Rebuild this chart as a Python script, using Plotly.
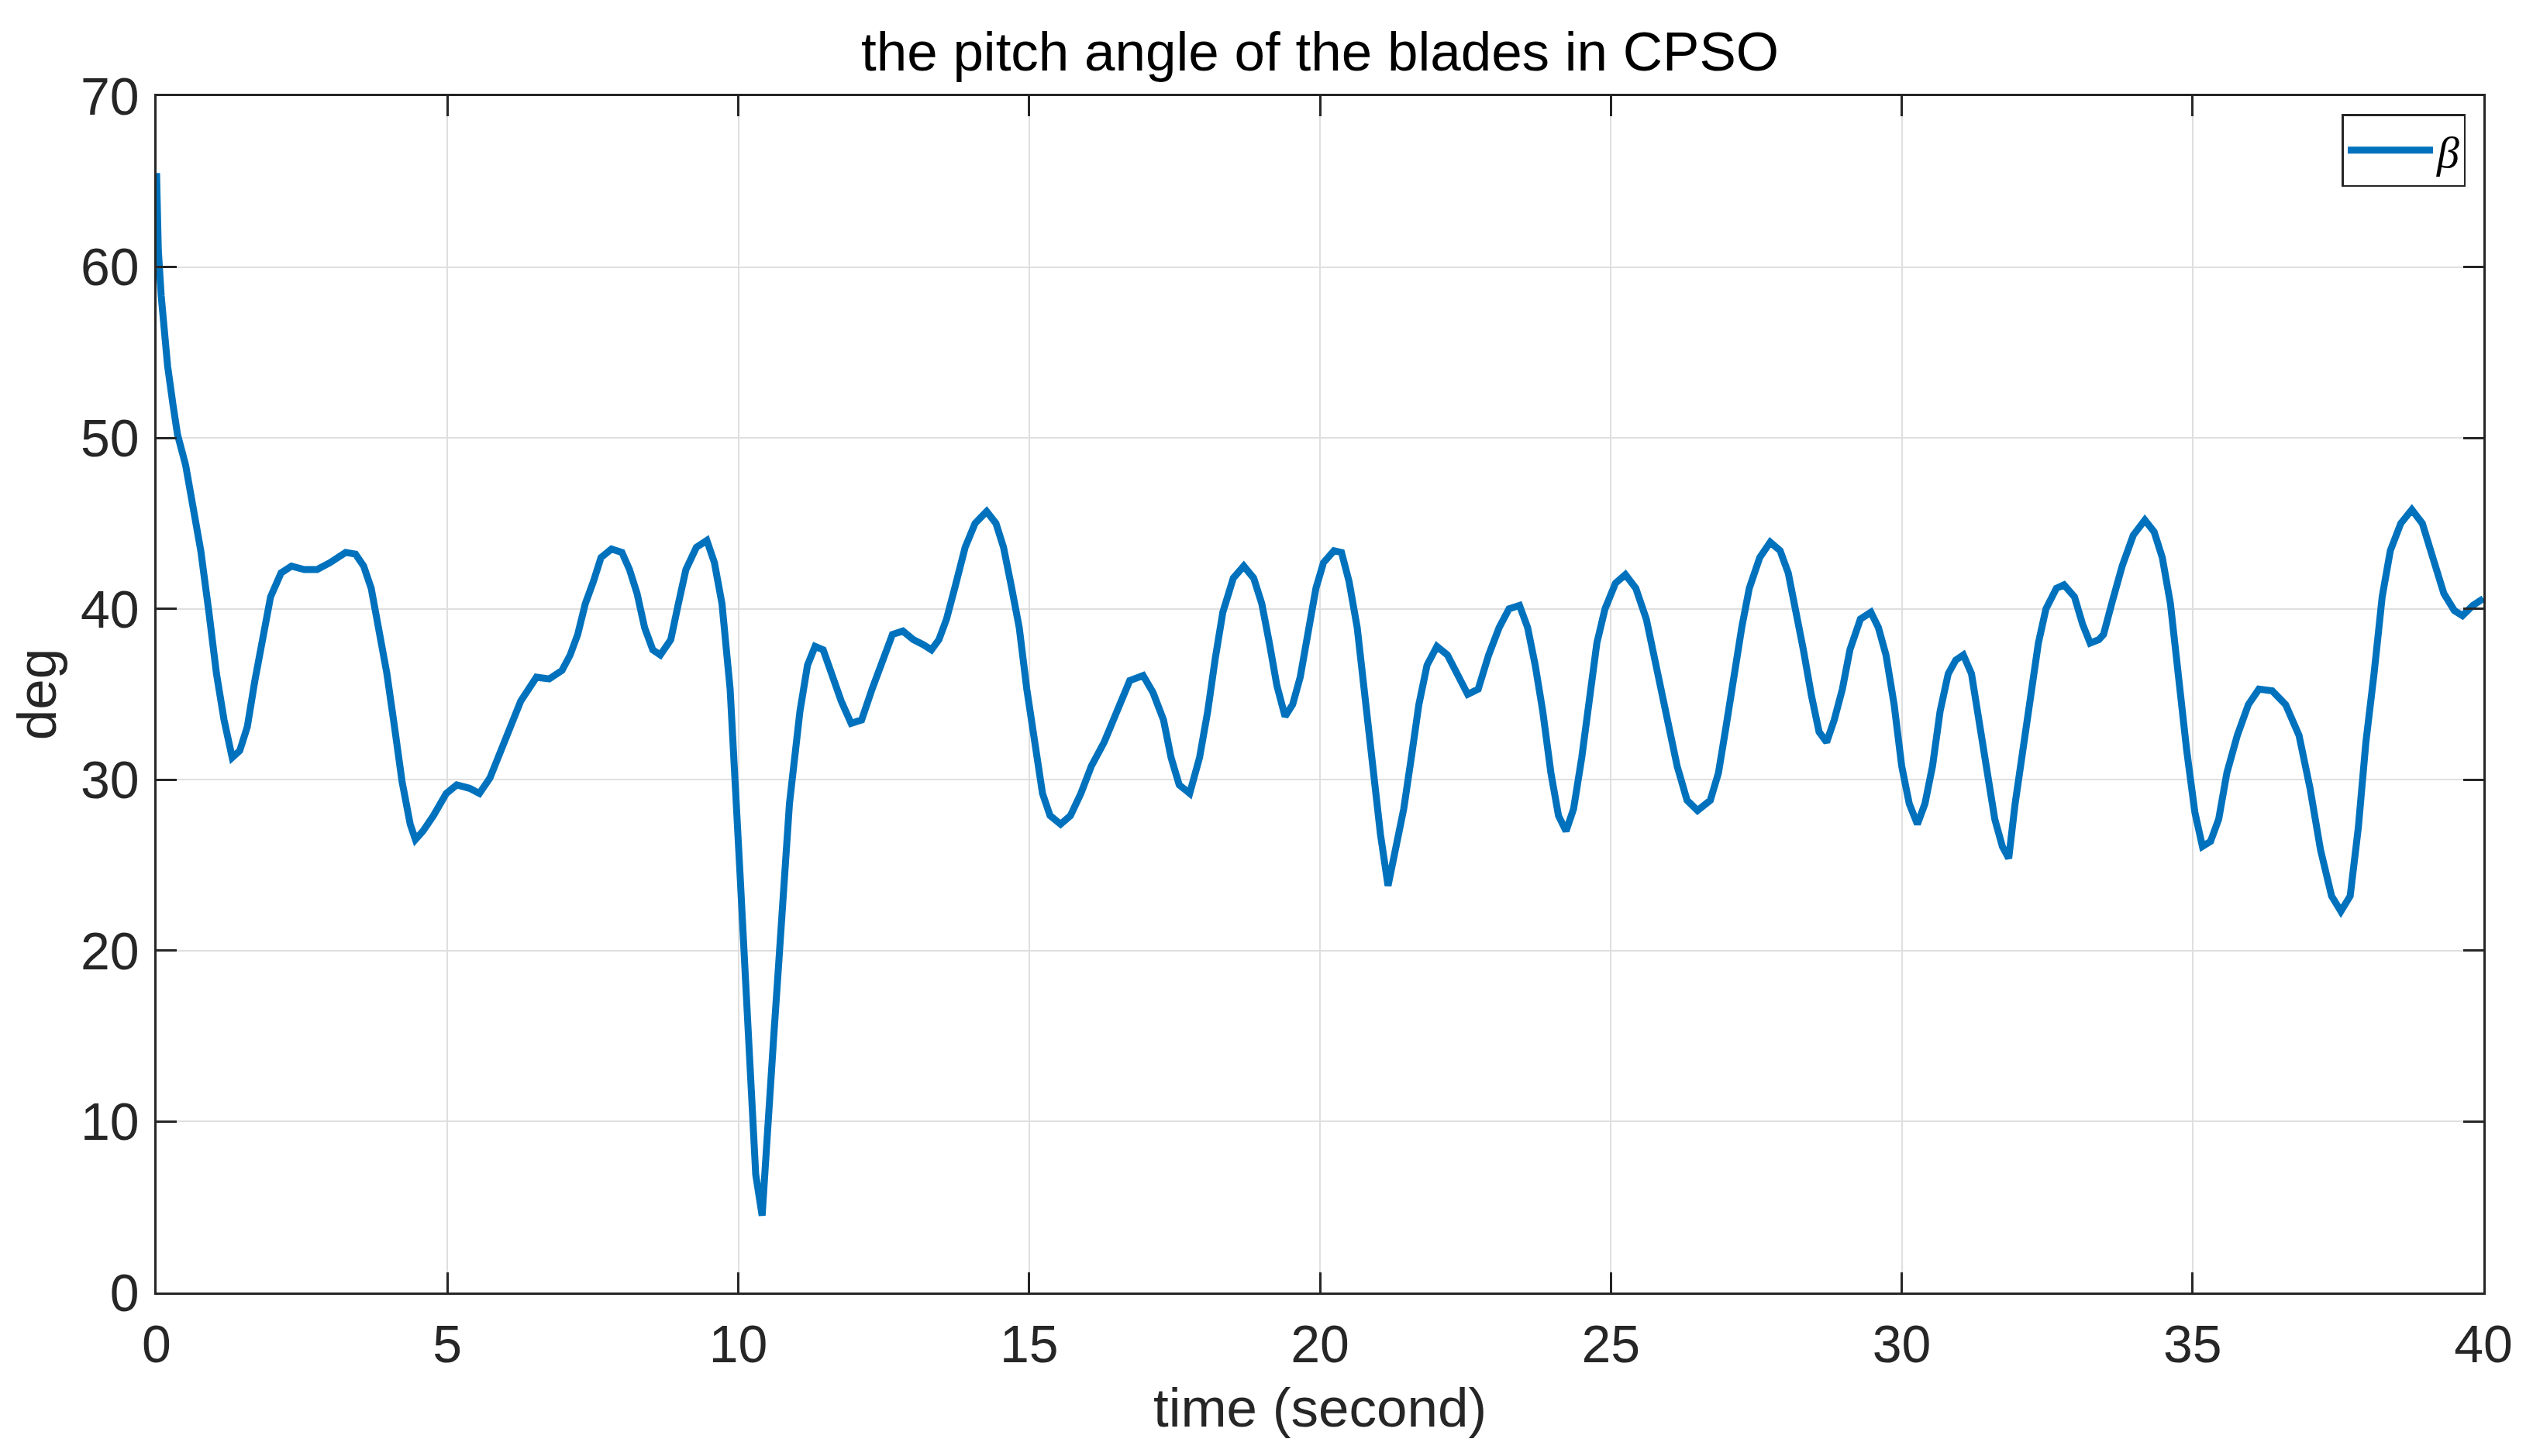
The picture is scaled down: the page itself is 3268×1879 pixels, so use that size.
import plotly.graph_objects as go

# time (s) and pitch angle beta (deg)
time_s = [0.0, 0.03, 0.08, 0.12, 0.19, 0.28, 0.36, 0.5, 0.63, 0.76, 0.9, 1.03, 1.16, 1.3, 1.43,
          1.56, 1.69, 1.83, 1.96, 2.14, 2.32, 2.54, 2.76, 2.98, 3.25, 3.42, 3.56, 3.69, 3.82,
          3.96, 4.09, 4.22, 4.36, 4.45, 4.58, 4.76, 4.98, 5.16, 5.38, 5.55, 5.73, 5.91, 6.09,
          6.26, 6.53, 6.75, 6.97, 7.11, 7.24, 7.37, 7.51, 7.64, 7.82, 8.0, 8.13, 8.26, 8.39,
          8.53, 8.66, 8.84, 8.97, 9.1, 9.28, 9.46, 9.59, 9.72, 9.86, 9.95, 10.03, 10.12, 10.21,
          10.3, 10.41, 10.52, 10.61, 10.7, 10.79, 10.88, 10.97, 11.06, 11.19, 11.32, 11.46,
          11.59, 11.77, 11.94, 12.12, 12.3, 12.48, 12.65, 12.83, 13.01, 13.18, 13.32, 13.45,
          13.58, 13.72, 13.9, 14.07, 14.27, 14.43, 14.56, 14.69, 14.83, 14.96, 15.09, 15.23,
          15.36, 15.54, 15.71, 15.89, 16.07, 16.29, 16.51, 16.73, 16.96, 17.13, 17.31, 17.44,
          17.58, 17.76, 17.93, 18.07, 18.2, 18.33, 18.51, 18.69, 18.86, 19.0, 19.13, 19.26,
          19.4, 19.53, 19.66, 19.8, 19.93, 20.06, 20.24, 20.37, 20.5, 20.64, 20.77, 20.9,
          21.04, 21.17, 21.3, 21.44, 21.57, 21.7, 21.84, 22.01, 22.19, 22.37, 22.54, 22.72,
          22.9, 23.08, 23.25, 23.43, 23.57, 23.7, 23.83, 23.97, 24.1, 24.23, 24.36, 24.5,
          24.63, 24.76, 24.9, 25.08, 25.25, 25.43, 25.61, 25.78, 25.96, 26.14, 26.31, 26.49,
          26.71, 26.85, 26.98, 27.11, 27.25, 27.38, 27.56, 27.74, 27.91, 28.05, 28.18, 28.31,
          28.45, 28.58, 28.71, 28.84, 28.98, 29.11, 29.29, 29.47, 29.6, 29.73, 29.87, 30.0,
          30.13, 30.27, 30.4, 30.53, 30.66, 30.8, 30.93, 31.06, 31.2, 31.33, 31.46, 31.6,
          31.73, 31.84, 31.95, 32.08, 32.22, 32.35, 32.48, 32.66, 32.79, 32.97, 33.11, 33.24,
          33.39, 33.47, 33.61, 33.79, 33.98, 34.18, 34.34, 34.48, 34.62, 34.76, 34.9, 35.04,
          35.17, 35.31, 35.45, 35.59, 35.77, 35.96, 36.14, 36.37, 36.6, 36.83, 37.02, 37.2,
          37.39, 37.55, 37.71, 37.85, 37.98, 38.12, 38.26, 38.4, 38.58, 38.77, 38.95, 39.13,
          39.32, 39.5, 39.64, 39.82, 40.0]

beta_deg = [65.5, 61.0, 58.3, 56.5, 54.2, 52.0, 50.2, 48.4, 46.1, 43.4, 39.8, 36.2, 33.5, 31.3, 31.7,
            33.1, 35.8, 38.5, 40.7, 42.1, 42.5, 42.3, 42.3, 42.7, 43.3, 43.2, 42.5, 41.2, 38.9,
            36.2, 33.1, 29.9, 27.4, 26.5, 27.0, 27.9, 29.2, 29.7, 29.5, 29.2, 30.1, 31.7, 33.1,
            34.6, 36.0, 35.9, 36.4, 37.3, 38.5, 40.3, 41.6, 43.0, 43.5, 43.3, 42.3, 40.9, 38.9,
            37.6, 37.3, 38.2, 40.3, 42.3, 43.6, 44.0, 42.7, 40.3, 35.3, 30.4, 24.5, 18.6, 11.9,
            6.9, 4.5, 9.6, 15.0, 19.5, 24.0, 28.6, 31.3, 34.0, 36.7, 37.8, 37.6,
            36.2, 34.6, 33.3, 33.5, 35.3, 36.9, 38.5, 38.7, 38.2, 37.9, 37.6, 38.2,
            39.4, 41.2, 43.6, 45.0, 45.7, 45.0, 43.6, 41.4, 38.9, 35.3, 32.2, 29.2,
            27.9, 27.4, 27.9, 29.2, 30.8, 32.2, 34.0, 35.8, 36.1, 35.1, 33.5, 31.3,
            29.7, 29.2, 31.3, 34.0, 37.1, 39.8, 41.8, 42.5, 41.8, 40.3, 38.0, 35.5,
            33.7, 34.4, 36.0, 38.5, 41.2, 42.7, 43.4, 43.3, 41.6, 38.9, 34.9, 30.4,
            26.8, 23.8, 26.1, 28.3, 31.3, 34.4, 36.7, 37.8, 37.3, 36.0, 35.0, 35.3,
            37.3, 38.9, 40.0, 40.2, 38.9, 36.7, 34.0, 30.4, 27.9, 27.0, 28.3, 31.3,
            34.4, 38.0, 40.0, 41.5, 42.0, 41.2, 39.4, 36.7, 34.0, 30.8, 28.8, 28.2,
            28.8, 30.4, 33.1, 36.2, 38.9, 41.2, 43.0, 43.9, 43.4, 42.1, 40.0, 37.6,
            34.9, 32.8, 32.2, 33.5, 35.3, 37.6, 39.4, 39.8, 38.9, 37.3, 34.4, 30.8,
            28.6, 27.4, 28.6, 30.8, 34.0, 36.2, 37.0, 37.3, 36.2, 33.5, 30.4, 27.7,
            26.1, 25.4, 28.6, 31.7, 35.3, 38.0, 40.0, 41.2, 41.4, 40.7, 39.1, 38.0,
            38.2, 38.5, 40.3, 42.5, 44.3, 45.2, 44.5, 43.0, 40.3, 35.8, 31.7, 28.1,
            26.1, 26.4, 27.7, 30.4, 32.6, 34.4, 35.3, 35.2, 34.4, 32.6, 29.5, 25.9,
            23.2, 22.3, 23.2, 27.2, 32.2, 36.2, 40.7, 43.4, 45.0, 45.8, 45.0, 43.0,
            40.9, 39.9, 39.6, 40.2, 40.6]

x_ticks = [0, 5, 10, 15, 20, 25, 30, 35, 40]
y_ticks = [0, 10, 20, 30, 40, 50, 60, 70]

AX = "#262626"
GRID = "#dfdfdf"
FONT = "Liberation Sans, Arial, sans-serif"

fig = go.Figure()
fig.add_trace(go.Scatter(
    x=time_s, y=beta_deg, mode="lines", name="<i>β</i>",
    line=dict(color="#0072BD", width=9),
))

axis_common = dict(
    showline=True, linecolor=AX, linewidth=2.5, mirror="ticks",
    ticks="inside", ticklen=26, tickwidth=2.5, tickcolor=AX,
    showgrid=True, gridcolor=GRID, gridwidth=2,
    zeroline=False,
    tickfont=dict(family=FONT, size=68, color=AX),
)

fig.update_layout(
    width=3268, height=1879,
    paper_bgcolor="white", plot_bgcolor="white",
    margin=dict(l=194, r=72, t=116, b=219),
    title=dict(text="the pitch angle of the blades in CPSO",
               font=dict(family=FONT, size=71, color="#000000"),
               x=0.5, xref="paper", xanchor="center",
               y=1 - 58 / 1879, yref="container", yanchor="middle"),
    xaxis=dict(range=[0, 40], tickvals=x_ticks, ticktext=[str(v) for v in x_ticks],
               title=dict(text="time (second)", font=dict(family=FONT, size=71, color=AX),
                          standoff=20),
               ticklabelstandoff=6,
               **axis_common),
    yaxis=dict(range=[0, 70], tickvals=y_ticks, ticktext=[str(v) for v in y_ticks],
               title=dict(text="deg", font=dict(family=FONT, size=71, color=AX),
                          standoff=12),
               ticklabelstandoff=6,
               **axis_common),
    showlegend=True,
    legend=dict(x=0.9925, y=0.985, xanchor="right", yanchor="top",
                bgcolor="white", bordercolor=AX, borderwidth=2.5,
                font=dict(family="Liberation Serif, Times New Roman, serif", size=58, color="#000000"),
                itemwidth=110),
)

fig.write_html("out.html")
